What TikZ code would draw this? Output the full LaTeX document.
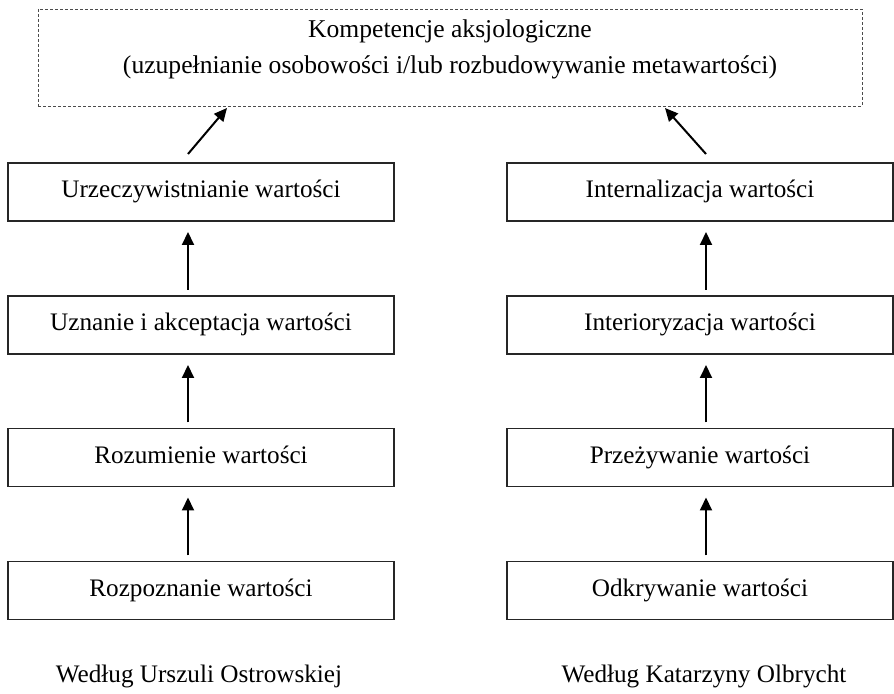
\documentclass[tikz,border=0pt]{standalone}
\usepackage{fontspec}
\setmainfont{Liberation Serif}
\usetikzlibrary{arrows.meta}

\begin{document}
\begin{tikzpicture}[x=0.5pt,y=-0.5pt,
    stage/.style={draw=black!85, line width=0.6pt, minimum width=193pt, minimum height=29pt,
        inner sep=0pt, outer sep=0pt, text height=8.5pt, text depth=2.5pt,
        font=\fontsize{12.6}{15}\selectfont},
    goal/.style={draw=black!70, dash pattern=on 1.5pt off 1pt, line width=0.4pt,
        minimum width=412pt, minimum height=48.5pt, inner sep=0pt, outer sep=0pt},
    caption/.style={font=\fontsize{12.6}{18}\selectfont},
    up/.style={-{Triangle[length=6.5pt,width=6pt]}, line width=1pt}]
    \useasboundingbox (0,0) rectangle (894,694);

    % Goal
    \node[goal] (comp) at (450,57.5) {};
    \node[caption, align=center, font=\fontsize{12.8}{18}\selectfont] (comptext) at ([yshift=4.25pt]comp.center)
        {Kompetencje aksjologiczne\\(uzupełnianie osobowości i/lub rozbudowywanie metawartości)};

    % Left column
    \node[stage] (l1) at (201,192) {Urzeczywistnianie wartości};
    \node[stage] (l2) at (201,325) {Uznanie i akceptacja wartości};
    \node[stage] (l3) at (201,457.5) {Rozumienie wartości};
    \node[stage] (l4) at (201,590.5) {Rozpoznanie wartości};

    % Right column
    \node[stage] (r1) at (700,192) {Internalizacja wartości};
    \node[stage] (r2) at (700,325) {Interioryzacja wartości};
    \node[stage] (r3) at (700,457.5) {Przeżywanie wartości};
    \node[stage] (r4) at (700,590.5) {Odkrywanie wartości};

    % Arrows
    \foreach \a/\b in {l4/l3,l3/l2,l2/l1}
        \draw[up, shorten <=3pt, shorten >=5.5pt] ([xshift=-6.5pt]\a.north) -- ([xshift=-6.5pt]\b.south);
    \foreach \a/\b in {r4/r3,r3/r2,r2/r1}
        \draw[up, shorten <=3pt, shorten >=5.5pt] ([xshift=3pt]\a.north) -- ([xshift=3pt]\b.south);
    \draw[up] ([xshift=-6.5pt,yshift=4.5pt]l1.north) -- ([xshift=-111.5pt,yshift=-1pt]comp.south);
    \draw[up] ([xshift=3pt,yshift=4.5pt]r1.north) -- ([xshift=107.5pt,yshift=-1pt]comp.south);

    % Authors
    \node[caption] (lauthor) at (199,676) {Według Urszuli Ostrowskiej};
    \node[caption] (rauthor) at (704,676) {Według Katarzyny Olbrycht};
\end{tikzpicture}
\end{document}
